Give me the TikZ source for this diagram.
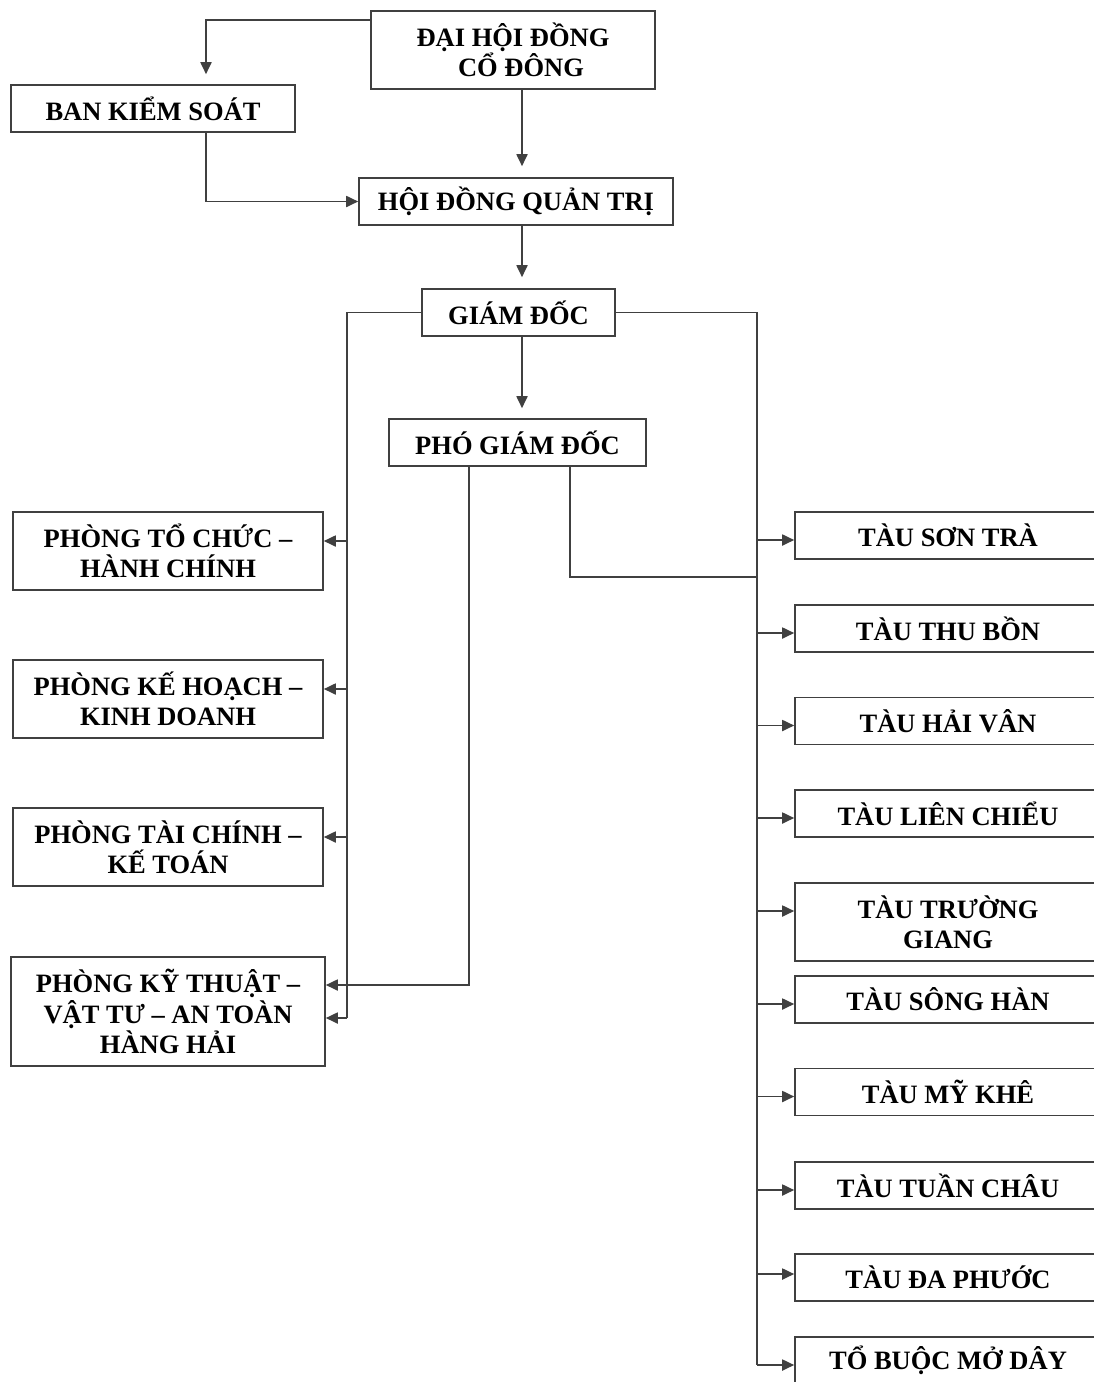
\documentclass[tikz,border=0pt]{standalone}
\usepackage{fontspec}
\setmainfont{Liberation Serif}
\usetikzlibrary{arrows.meta}
\begin{document}
\begin{tikzpicture}[x=1pt,y=-1pt,
  box/.style={draw=black!75,line width=1.6pt,inner sep=0pt,align=center,
    font=\fontsize{26.5}{30.5}\selectfont\bfseries,text=black,minimum height=47pt},
  lnk/.style={draw=black!75,line width=1.8pt},
  arr/.style={lnk,-{Triangle[length=12pt,width=11pt]}}]
\useasboundingbox (0,0) rectangle (1094,1382);
\clip (0,0) rectangle (1094,1382);
\fill[white] (0,0) rectangle (1094,1382);
% nodes
\node[box,minimum width=284pt,minimum height=78pt] (dhdcd) at (513,50) {ĐẠI HỘI ĐỒNG\\\hspace*{16pt}CỔ ĐÔNG};
\node[box,minimum width=284pt] (bks) at (153,108.5) {BAN KIỂM SOÁT};
\node[box,minimum width=314pt] (hdqt) at (516,201.5) {HỘI ĐỒNG QUẢN TRỊ};
\node[box,minimum width=193pt] (gd) at (518.5,312.5) {GIÁM ĐỐC};
\node[box,minimum width=257pt] (pgd) at (517.5,442.5) {PHÓ GIÁM ĐỐC};
\node[box,minimum width=310pt,minimum height=78pt] (ptc) at (168,551) {PHÒNG TỔ CHỨC –\\HÀNH CHÍNH};
\node[box,minimum width=310pt,minimum height=78pt] (pkh) at (168,699) {PHÒNG KẾ HOẠCH –\\KINH DOANH};
\node[box,minimum width=310pt,minimum height=78pt] (ptk) at (168,847) {PHÒNG TÀI CHÍNH –\\KẾ TOÁN};
\node[box,minimum width=314pt,minimum height=109pt] (pkt) at (168,1011.5) {PHÒNG KỸ THUẬT –\\VẬT TƯ – AN TOÀN\\HÀNG HẢI};
\node[box,minimum width=306pt] (t1) at (948,535.5) {TÀU SƠN TRÀ};
\node[box,minimum width=306pt] (t2) at (948,628.5) {TÀU THU BỒN};
\node[box,minimum width=306pt] (t3) at (948,721) {TÀU HẢI VÂN};
\node[box,minimum width=306pt] (t4) at (948,813.5) {TÀU LIÊN CHIỂU};
\node[box,minimum width=306pt,minimum height=78pt] (t5) at (948,922) {TÀU TRƯỜNG\\GIANG};
\node[box,minimum width=306pt] (t6) at (948,999.5) {TÀU SÔNG HÀN};
\node[box,minimum width=306pt] (t7) at (948,1092) {TÀU MỸ KHÊ};
\node[box,minimum width=306pt] (t8) at (948,1185.5) {TÀU TUẦN CHÂU};
\node[box,minimum width=306pt] (t9) at (948,1277.5) {TÀU ĐA PHƯỚC};
\node[box,minimum width=306pt] (t10) at (948,1360.5) {TỔ BUỘC MỞ DÂY};
% helper coordinates
\coordinate (mx) at (522,0);
\coordinate (lv) at (347,0);
\coordinate (rv) at (757,0);
\coordinate (pv1) at (469,0);
\coordinate (pv2) at (570,0);
\coordinate (pj) at (757,577);
\path ([yshift=-10pt]dhdcd.north west) coordinate (dA);
\path ([xshift=53pt]bks.north) coordinate (bN);
\path ([xshift=53pt]bks.south) coordinate (bS);
\path ([yshift=10pt]ptc.east) coordinate (ptcA);
\path ([yshift=10pt]pkh.east) coordinate (pkhA);
\path ([yshift=10pt]ptk.east) coordinate (ptkA);
\path ([yshift=26.5pt]pkt.east) coordinate (pktA);
\path ([yshift=-6.5pt]pkt.east) coordinate (pktB);
\foreach \n/\s in {t1/-4.5,t2/-4.5,t3/-4.5,t4/-4.5,t5/11,t6/-4.5,t7/-4.5,t8/-4.5,t9/3.5,t10/-4.5}
  {\path ([yshift=\s pt]\n.west) coordinate (\n A);}
% connectors
\draw[arr,shorten >=10pt] (dA) -| (bN);
\draw[arr,shorten >=11pt] (dhdcd.south -| mx) -- (hdqt.north -| mx);
\draw[arr] (bS) |- (hdqt.west);
\draw[arr,shorten >=11pt] (hdqt.south -| mx) -- (gd.north -| mx);
\draw[arr,shorten >=10pt] (gd.south -| mx) -- (pgd.north -| mx);
\draw[lnk] (gd.west) -| (lv |- pktB);
\draw[arr] (lv |- pktB) -- (pktB);
\draw[arr] (lv |- ptcA) -- (ptcA);
\draw[arr] (lv |- pkhA) -- (pkhA);
\draw[arr] (lv |- ptkA) -- (ptkA);
\draw[arr] (pgd.south -| pv1) |- (pktA);
\draw[lnk] (pgd.south -| pv2) |- (pj);
\draw[lnk] (gd.east) -| (rv |- t10A);
\foreach \n in {t1,t2,t3,t4,t5,t6,t7,t8,t9,t10}
  {\draw[arr] (rv |- \n A) -- (\n A);}
\end{tikzpicture}
\end{document}
